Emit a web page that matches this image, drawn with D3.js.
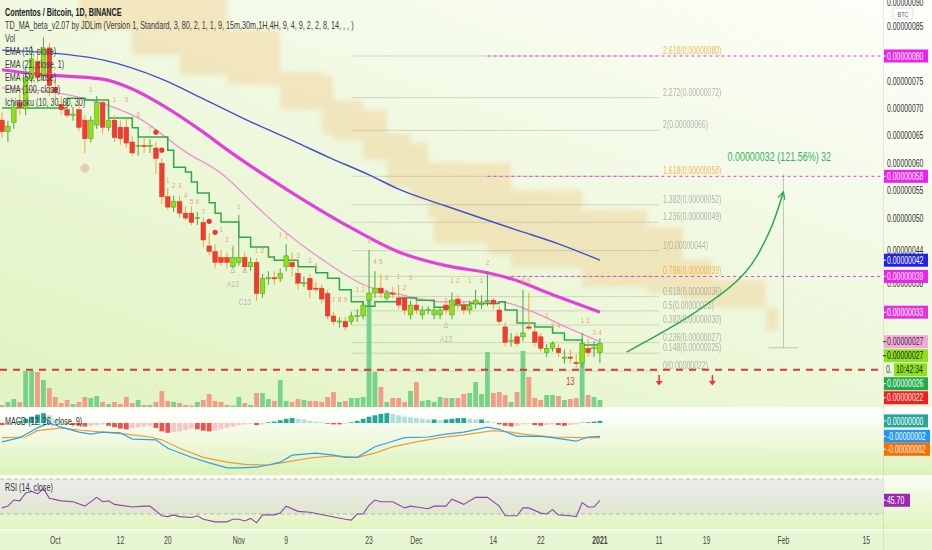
<!DOCTYPE html>
<html><head><meta charset="utf-8">
<script src="https://cdn.jsdelivr.net/npm/d3@7"></script>
<style>html,body{margin:0;padding:0;overflow:hidden;background:#eef8dd}svg{display:block}</style>
</head><body>
<svg id="chart" width="932" height="550" font-family="'Liberation Sans', Arial, sans-serif"></svg>
<script>
// ---------------- DATA (prices in units of 1e-8 BTC, day index from 2020-09-22) ----------------
const startDate = "2020-09-22";
const opens = [67.9,65.8,67.5,71.1,70.0,75.5,78.6,76.2,81.1,73.9, 70.8,69.8,68.8,69.8,67.9,64.5,67.0,71.1,66.6,67.9, 66.6,66.6,63.9,63.1,63.3,63.1,62.8,60.0,53.9,52.0, 53.0,50.9,50.9,50.0,49.2,44.9,43.9,42.8,42.8,41.1, 41.9,42.8,41.1,41.9,36.2,39.0,39.1,39.0,41.1,41.9, 39.9,38.1,39.0,37.2,37.2,36.2,32.1,31.1,31.1,31.1, 32.1,32.1,35.0,36.3,37.2,35.4,36.3,35.4,35.4,32.3, 34.1,32.3,33.2,32.3,32.3,34.1,32.3,35.2,34.1,33.2, 34.3,34.3,34.9,35.0,33.2,30.1,27.5,28.3,28.3,30.1, 29.2,28.3,25.4,26.2,26.2,24.5,24.6,23.6,23.5,26.2, 26.2,25.4];
const highs = [69.3,67.8,71.3,72.8,77.7,81.5,81.0,83.0,82.0,75.2, 72.3,70.8,70.3,70.8,68.8,68.6,72.3,71.8,69.3,68.8, 67.8,68.3,64.9,64.9,64.9,64.4,63.9,60.9,55.5,54.1, 54.1,52.1,52.1,51.1,50.1,47.2,45.2,44.2,43.7,44.7, 50.6,43.7,42.8,42.7,39.8,40.3,40.3,40.8,45.2,43.7, 40.8,39.3,39.8,38.3,37.8,36.9,32.9,31.9,31.9,32.9, 33.4,34.9,44.2,40.3,39.8,36.9,37.4,37.8,35.9,34.9, 34.9,33.9,33.9,33.9,33.9,35.4,36.4,35.9,34.9,34.9, 36.9,35.9,40.3,35.4,33.9,31.0,29.0,29.0,36.9,36.4, 30.0,29.0,27.0,27.5,27.0,26.0,26.0,25.1,29.0,28.0, 27.5,28.0];
const lows = [64.6,63.9,66.3,68.8,68.8,74.7,74.7,75.2,72.3,71.8, 68.8,68.3,67.8,65.9,61.9,63.8,66.3,65.4,65.9,63.9, 63.4,62.9,61.4,61.4,61.9,61.9,58.0,52.6,51.6,51.1, 50.1,49.6,48.7,48.7,44.7,43.2,40.8,41.3,40.8,40.8, 41.3,40.3,40.3,34.9,35.4,37.8,37.8,38.3,40.3,39.3, 36.9,37.4,35.4,36.4,34.4,31.5,30.5,30.0,29.5,30.5, 31.0,31.5,33.9,35.4,35.4,34.9,35.4,33.4,32.4,31.5, 32.4,31.5,32.4,31.5,31.5,32.4,31.5,33.4,32.4,32.4, 33.4,33.4,33.9,33.4,30.5,26.5,26.5,26.5,27.5,29.5, 26.5,25.6,24.6,25.6,24.6,23.4,23.4,22.6,22.6,24.6, 24.6,23.5];
const closes = [65.8,66.8,70.3,70.2,75.7,79.1,75.7,81.1,74.2,73.0, 69.8,68.8,69.0,66.6,64.5,67.9,71.1,66.6,67.9,64.7, 64.5,63.7,61.9,63.3,63.1,63.3,60.9,53.9,52.0,53.0, 50.9,50.0,49.2,50.1,46.0,43.9,41.9,41.9,41.9,42.8, 42.8,41.1,41.9,36.2,39.0,39.1,39.0,39.9,43.1,41.1, 38.1,38.2,36.9,37.1,35.2,32.1,31.1,31.2,30.1,32.1, 32.2,34.1,36.3,37.2,36.3,36.3,36.2,34.1,33.2,34.1, 33.2,33.2,33.3,33.2,33.2,33.2,35.0,34.3,33.2,34.1, 35.0,34.4,35.0,34.3,31.1,27.3,27.7,27.1,29.0,29.9, 27.3,26.2,26.2,27.1,25.4,24.6,24.5,23.5,27.1,25.4, 26.3,27.1];
const volumes = [2,5,8,5,36,36,35,27,19,10, 4,7,3,5,10,9,11,5,3,5, 3,10,4,7,2,2,5,16,6,5, 4,2,1.5,5,7,13,6,5,2,1.5, 10,4,2,14,14,8,6,27,6,5, 8,7,6,6,5,10,15,5,6,9, 9,10,107,35,20,5,9,9,5,16, 25,6,7,5,10,9,9,9,13,14, 25,13,55,14,15,12,5,15,56,30, 9,7,12,12,11,7,8,9,64,12, 10,7];

// moving averages [dayIndex, value]
const ema100 = [[0,80.7],[8,80.2],[17,78.9],[27,75.4],[34,71.8],[42,67.6],[50,63.7],[55,61.2],[62,57.9],[67,55.3],[75,52.2],[87,47.8],[94,45.3],[101,42.3]];
const ema50 = [[0,77.1],[6,76.3],[17,75.4],[22,73.6],[27,70.7],[34,65.7],[38,62.5],[48,55.3],[59,48.2],[67,43.8],[75,41.3],[82,40.0],[86,38.9],[93,36.0],[101,32.8]];
const ema21 = [[0,73.8],[8,73.1],[17,70.9],[23,68.3],[31,62.1],[37,58.2],[44,51.1],[48,47.3],[54,42.5],[62,37.4],[67,36.1],[74,34.7],[84,34.7],[90,32.7],[95,30.2],[101,27.4]];
const tdLine = [[0,70.1],[3,70.1],[7,70.1],[11,71.9],[14,71.6],[18,68.3],[22,66.5],[23,64.8],[27,64.8],[28,62.4],[29,59.3],[31,58.4],[32,56.6],[33,54.6],[35,52.8],[36,50.9],[37,49.3],[40,46.5],[42,44.7],[45,42.9],[46,42.3],[50,41.1],[53,40.0],[55,39.0],[57,36.9],[59,34.7],[61,33.9],[63,34.7],[67,35.4],[70,35.0],[73,33.7],[76,34.1],[79,34.4],[82,34.4],[84,34.7],[85,33.2],[87,30.8],[90,30.1],[93,29.0],[95,27.7],[98,26.8],[101,26.3]];
// ichimoku cloud (displaced) [dayIndex, upper, lower]
const cloud = [[13,92,84.4],[22,92,79.8],[30,92,76.1],[38,84.4,74.3],[47,76.7,69.8],[54,76.1,65.2],[56,71.6,64.3],[61,69.8,60.6],[65,65.5,55.6],[69,63.7,53.3],[72,60.1,50.2],[73,60.1,45.5],[82,60.1,43.3],[86,55.1,41.1],[98,51.5,37.4],[109,48.4,36.3],[115,42.4,35.0],[120,38.7,33.7],[129,33.7,29.6],[131,31.7,28.6]];

// fibonacci
const fibRatios = [0,0.148,0.236,0.382,0.5,0.618,0.786,1,1.236,1.382,1.618,2,2.272,2.618];
const fibLow = 22.05, fibHigh = 44.04;
const fibOrange = [0.786,1.618,2.618];
const fibSpan = [59,111];
const pinkLevels = [[2.618,82],[1.618,82],[0.786,86]];
const supportLine = 22.3;

// MACD (units 1e-9)
const macdLine = [[0,-27],[3,-21],[6,-7],[8,0],[10,-6],[13,-13],[15,-16],[17,-13],[20,-14],[22,-23],[26,-24],[28,-36],[32,-49],[35,-57],[38,-64],[40,-64],[43,-63],[45,-60],[47,-56],[49,-46],[53,-43],[56,-46],[58,-49],[60,-49],[63,-34],[66,-26],[68,-21],[72,-20],[75,-16],[78,-13],[82,-6],[84,-9],[87,-19],[91,-19],[93,-21],[97,-26],[99,-20],[101,-19]];
const signalLine = [[0,-21],[4,-20],[6,-11],[10,-7],[13,-10],[17,-13],[21,-16],[25,-20],[27,-24],[30,-36],[34,-49],[38,-56],[41,-59],[45,-60],[48,-56],[52,-50],[56,-47],[60,-49],[63,-43],[66,-34],[70,-27],[74,-21],[78,-17],[83,-11],[86,-13],[88,-16],[93,-20],[98,-21],[101,-21]];
const macdHist = [-3,-2,1,3,6,9,12,14,11,6, 2,-1,-3,-4,-5,-4,-3,-2,-4,-6, -8,-9,-7,-6,-5,-4,-7,-12,-14,-13, -12,-10,-8,-9,-11,-12,-11,-9,-7,-5, -3,-2,-1,-3,-2,1,2,4,6,7, 6,5,3,2,1,-1,-2,-2,-1,1, 3,6,9,11,13,14,13,11,9,8, 7,6,5,5,4,5,6,7,7,6, 5,5,3,1,-2,-4,-5,-4,-2,-1, -3,-4,-3,-2,-3,-4,-3,-2,0.5,1, 2,3];

// RSI [dayIndex, value]
const rsi = [[0,37],[1,39],[2,46],[3,45],[4,54],[5,56],[6,53],[7,59],[8,48],[10,45],[12,44],[14,39],[16,49],[17,44],[18,45],[19,41],[22,38],[24,39],[25,39],[27,28],[28,27],[29,29],[30,27],[32,26],[33,28],[34,24],[36,21],[38,21],[39,24],[40,24],[41,22],[42,25],[43,20],[44,29],[46,29],[47,31],[48,39],[50,33],[52,32],[55,28],[58,24],[59,23],[60,30],[61,30],[62,40],[63,46],[64,44],[66,44],[68,37],[69,39],[70,38],[72,36],[73,39],[75,39],[76,47],[78,41],[80,49],[82,49],[84,39],[85,28],[87,28],[88,37],[89,37],[91,31],[92,30],[93,35],[94,29],[96,28],[97,27],[98,43],[99,38],[100,38],[101,45.7]];

// annotations
const tdLabels = [[15,"1",73.0],[19,"1",71.2],[21,"3",71.2],[23,"6",68.5],[25,"7",65.7],[28,"1",56.4],[29,"2",55.5],[30,"3",55.5],[31,"4",53.6],[32,"5",52.5],[33,"6",52.5],[34,"7",50.7],[37,"1",47.5],[38,"2",45.6],[39,"3",44.2],[40,"1",51.6],[43,"1",43.6],[44,"2",43.6],[45,"3",43.6],[47,"1",46.5],[48,"2",46.2],[50,"3",42.7],[52,"3",41.8],[53,"4",40.9],[56,"7",34.7],[57,"8",34.7],[58,"9",34.7],[60,"1",36.5],[61,"2",36.5],[62,"3",45.4],[63,"4",41.6],[64,"5",41.6],[65,"6",38.7],[67,"1",38.9],[68,"2",36.9],[69,"3",38.7],[76,"1",38.1],[77,"2",38.1],[79,"1",38.1],[81,"1",38.1],[82,"2",41.4],[87,"5",31.0],[88,"8",38.1],[89,"9",38.1],[92,"2",31.7],[93,"3",29.9],[94,"4",29.9],[98,"1",30.8],[99,"2",30.8],[100,"3",28.6],[101,"4",28.6]];
const greyLabels = [[39,"A13",37.4],[41,"C13",34.1],[75,"A13",27.4],[39,"\u0394",39.9],[41,"\u0394",39.9],[75,"\u0394",29.9]];
const redDots = [[26,65.7],[27,62.4],[35,49.4],[36,47.4]];
const greyDots = [[14,59.1]];
const count13 = [96,20.2];
const downArrows = [[111,20.2],[120,20.2]];
const projection = [[105.5,25.5],[117,32.7],[125.5,40.0],[129.5,47.2],[132,54.8]];
const measure = {day:132, from:26.3, to:58.0, text:"0.00000032 (121.56%) 32"};

const priceTicks = [90,85,75,70,65,60,55,50,44,38];
const timeTicks = [["2020-10-01","Oct"],["2020-10-12","12"],["2020-10-20","20"],["2020-11-01","Nov"],["2020-11-09","9"],["2020-11-23","23"],["2020-12-01","Dec"],["2020-12-14","14"],["2020-12-22","22"],["2021-01-01","2021"],["2021-01-11","11"],["2021-01-19","19"],["2021-02-01","Feb"],["2021-02-15","15"]];
const legendLines = ["Contentos / Bitcoin, 1D, BINANCE","TD_MA_beta_v2.07 by JDLim (Version 1, Standard, 3, 80, 2, 1, 1, 9, 15m,30m,1H,4H, 9, 4, 9, 2, 2, 8, 14, , , )","Vol","EMA (10, close)","EMA (21, close, 1)","EMA (50, close)","EMA (100, close)","Ichimoku (10, 30, 60, 30)"];

// ---------------- RENDER ----------------
const svg = d3.select("#chart");
const defs = svg.append("defs");
const parse = d3.utcParse("%Y-%m-%d");
const t0 = parse(startDate);
const day = i => new Date(t0.getTime() + i*86400000);
const xs = d3.scaleUtc().domain([day(0), day(146)]).range([2, 2 + 146*5.92]);
const X = i => xs(day(i));
const y = d3.scaleLinear().domain([fibLow, 79.62]).range([371, 56]);
const yV = d3.scaleLinear().domain([0, 100]).range([407, 307]);
const yM = d3.scaleLinear().domain([0, -20]).range([423, 437]);
const yR = d3.scaleLinear().domain([30, 70]).range([514, 479]);
const PR = 883;

function grad(id, x1, y1, x2, y2, stops) {
  const g = defs.append("linearGradient").attr("id", id).attr("x1", x1).attr("y1", y1).attr("x2", x2).attr("y2", y2);
  stops.forEach(([o, c]) => g.append("stop").attr("offset", o).attr("stop-color", c));
}
grad("gMain", 1, 0, 0.2, 1, [[0, "#fdfef9"], [0.45, "#f1f9e3"], [1, "#e3f4c4"]]);
grad("gMacd", 0, 0, 0, 1, [[0, "#ffffff"], [1, "#dcf2b8"]]);
grad("gRsi", 0, 0, 0, 1, [[0, "#fafdf4"], [1, "#e0f3be"]]);
function clip(id, yy, h) { defs.append("clipPath").attr("id", id).append("rect").attr("x", 0).attr("y", yy).attr("width", PR).attr("height", h); }
clip("cMain", 0, 407); clip("cMacd", 408, 68); clip("cRsi", 476, 54);
defs.append("filter").attr("id", "soft").attr("x", "-5%").attr("y", "-5%").attr("width", "110%").attr("height", "110%")
  .append("feGaussianBlur").attr("stdDeviation", 2.5);

// arrow marker
defs.append("marker").attr("id", "arr").attr("viewBox", "0 0 10 10").attr("refX", 9).attr("refY", 5)
  .attr("markerWidth", 9).attr("markerHeight", 9).attr("orient", "auto").attr("markerUnits", "userSpaceOnUse")
  .append("path").attr("d", "M1,1 L9,5 L1,9").attr("fill", "none").attr("stroke", "#2eaa4a").attr("stroke-width", 1.4);

svg.append("rect").attr("x", 0).attr("y", 0).attr("width", 932).attr("height", 408).attr("fill", "url(#gMain)");
svg.append("rect").attr("x", 0).attr("y", 408).attr("width", 932).attr("height", 68).attr("fill", "url(#gMacd)");
svg.append("rect").attr("x", 0).attr("y", 476).attr("width", 932).attr("height", 54).attr("fill", "url(#gRsi)");
svg.append("rect").attr("x", 0).attr("y", 530).attr("width", 932).attr("height", 20).attr("fill", "#e8f7d3");

function txt(g, x, yy, s, o = {}) {
  const t = g.append("text").attr("transform", `translate(${x},${yy}) scale(${o.sx ?? 0.69},1)`)
    .attr("font-size", o.fs ?? 10).attr("fill", o.fill ?? "#333").text(s);
  if (o.anchor) t.attr("text-anchor", o.anchor);
  if (o.fw) t.attr("font-weight", o.fw);
  if (o.op != null) t.attr("opacity", o.op);
  return t;
}

// ---------- main pane ----------
const main = svg.append("g").attr("clip-path", "url(#cMain)");

// cloud
main.append("path").datum(cloud)
  .attr("d", d3.area().x(d => X(d[0])).y0(d => y(d[2])).y1(d => y(d[1])).curve(d3.curveStepAfter))
  .attr("fill", "rgba(240,180,95,0.28)").attr("filter", "url(#soft)");

// fib lines
const fibVal = r => fibLow + r*(fibHigh - fibLow);
main.selectAll(".fib").data(fibRatios).join("line")
  .attr("x1", X(fibSpan[0])).attr("x2", X(fibSpan[1]))
  .attr("y1", r => y(fibVal(r))).attr("y2", r => y(fibVal(r)))
  .attr("stroke", "rgba(130,130,130,0.28)").attr("stroke-width", 1);
const fg = main.append("g");
fibRatios.forEach(r => {
  const orange = fibOrange.includes(r);
  txt(fg, X(fibSpan[1]) + 4, y(fibVal(r)) - 2, `${r}(${(fibVal(r)*1e-8).toFixed(8)})`,
    {fs: 10, fill: orange ? "#f3a52d" : "#8f8f8f", op: orange ? 0.75 : 0.65});
});
// pink dashed levels
main.selectAll(".pink").data(pinkLevels).join("line")
  .attr("x1", d => X(d[1])).attr("x2", PR)
  .attr("y1", d => y(fibVal(d[0]))).attr("y2", d => y(fibVal(d[0])))
  .attr("stroke", "#e43ee6").attr("stroke-width", 1).attr("stroke-dasharray", "3,3");

// data
const data = d3.range(closes.length).map(i => ({i, o: opens[i], h: highs[i], l: lows[i], c: closes[i], v: volumes[i], up: closes[i] >= opens[i]}));

// volume
main.selectAll(".vol").data(data).join("rect")
  .attr("x", d => X(d.i) - 2.4).attr("width", 4.8)
  .attr("y", d => yV(d.v)).attr("height", d => yV(0) - yV(d.v))
  .attr("fill", d => d.up ? "#78d38a" : "#f29d86");

// support line
main.append("line").attr("x1", 0).attr("x2", PR).attr("y1", y(supportLine)).attr("y2", y(supportLine))
  .attr("stroke", "#d83a32").attr("stroke-width", 2).attr("stroke-dasharray", "7,6");

// lines
const ln = d3.line().x(d => X(d[0])).y(d => y(d[1])).curve(d3.curveMonotoneX);
main.append("path").datum(ema100).attr("d", ln).attr("fill", "none").attr("stroke", "#3f4fd6").attr("stroke-width", 1.4);
main.append("path").datum(ema50).attr("d", ln).attr("fill", "none").attr("stroke", "#e33fdc").attr("stroke-width", 3.2);
main.append("path").datum(ema21).attr("d", ln).attr("fill", "none").attr("stroke", "#ec8fd6").attr("stroke-width", 1.3);
main.append("path").datum(tdLine).attr("d", d3.line().x(d => X(d[0])).y(d => y(d[1])).curve(d3.curveStepAfter))
  .attr("fill", "none").attr("stroke", "#2fa84a").attr("stroke-width", 1.5);

// candles
main.selectAll(".wick").data(data).join("line")
  .attr("x1", d => X(d.i)).attr("x2", d => X(d.i)).attr("y1", d => y(d.h)).attr("y2", d => y(d.l))
  .attr("stroke", d => d.up ? "#47a84a" : "#f2a43a").attr("stroke-width", 1);
main.selectAll(".body").data(data).join("rect")
  .attr("x", d => X(d.i) - 2.3).attr("width", 4.6)
  .attr("y", d => y(Math.max(d.o, d.c)))
  .attr("height", d => Math.max(1.2, y(Math.min(d.o, d.c)) - y(Math.max(d.o, d.c))))
  .attr("fill", d => d.up ? "#8ede18" : "#f23c2d")
  .attr("stroke", d => d.up ? "#4f9d22" : "#d9332a").attr("stroke-width", 0.5);

// TD labels
const tg = main.append("g");
tdLabels.forEach(([i, s, p]) => txt(tg, X(i), y(p), s, {fs: 8, fill: "#ee9a68", anchor: "middle", sx: 0.8, op: 0.9}));
greyLabels.forEach(([i, s, p]) => txt(tg, X(i), y(p), s, {fs: 8.5, fill: "#b9b9b9", anchor: "middle", sx: 0.8}));
main.selectAll(".rdot").data(redDots).join("circle").attr("cx", d => X(d[0])).attr("cy", d => y(d[1])).attr("r", 2.6).attr("fill", "#e8392f");
main.selectAll(".gdot").data(greyDots).join("circle").attr("cx", d => X(d[0])).attr("cy", d => y(d[1])).attr("r", 4.5).attr("fill", "rgba(215,150,150,0.45)");
txt(tg, X(count13[0]), y(count13[1]) + 4, "13", {fs: 10, fill: "#e53a30", anchor: "middle", sx: 0.8});

// down arrows
downArrows.forEach(([i, p]) => {
  const cx = X(i), cy = y(p);
  main.append("path").attr("d", `M${cx},${cy - 6} L${cx},${cy + 2}`).attr("stroke", "#e53935").attr("stroke-width", 1.6);
  main.append("path").attr("d", `M${cx - 3.5},${cy} L${cx + 3.5},${cy} L${cx},${cy + 4.5} Z`).attr("fill", "#e53935");
});

// measure
const mx = X(measure.day);
main.append("line").attr("x1", mx).attr("x2", mx).attr("y1", y(measure.to)).attr("y2", y(measure.from)).attr("stroke", "rgba(120,140,130,0.45)").attr("stroke-width", 1);
main.append("line").attr("x1", X(measure.day - 2.5)).attr("x2", X(measure.day + 2.5)).attr("y1", y(measure.from)).attr("y2", y(measure.from)).attr("stroke", "rgba(120,140,130,0.45)").attr("stroke-width", 1);
txt(main, mx - 56, y(measure.to) - 13, measure.text, {fs: 13, fill: "#35b35f"});

// projection arrow
main.append("path").datum(projection).attr("d", d3.line().x(d => X(d[0])).y(d => y(d[1])).curve(d3.curveCatmullRom))
  .attr("fill", "none").attr("stroke", "#2eaa4a").attr("stroke-width", 1.5).attr("marker-end", "url(#arr)");

// ---------- MACD pane ----------
const mg = svg.append("g").attr("clip-path", "url(#cMacd)");
const hd = macdHist.map((v, i) => ({i, v, prev: i ? macdHist[i - 1] : v}));
mg.selectAll(".h").data(hd).join("rect")
  .attr("x", d => X(d.i) - 2.4).attr("width", 4.8)
  .attr("y", d => Math.min(yM(d.v), yM(0))).attr("height", d => Math.abs(yM(d.v) - yM(0)))
  .attr("fill", d => d.v >= 0 ? (d.v >= d.prev ? "#26a69a" : "#b2dfdb") : (d.v <= d.prev ? "#ef5350" : "#f9c4c4"));
const lm = d3.line().x(d => X(d[0])).y(d => yM(d[1]));
mg.append("path").datum(signalLine).attr("d", lm).attr("fill", "none").attr("stroke", "#f39a2e").attr("stroke-width", 1.2);
mg.append("path").datum(macdLine).attr("d", lm).attr("fill", "none").attr("stroke", "#2e9ff0").attr("stroke-width", 1.2);
txt(svg, 5, 425, "MACD (12, 26, close, 9)", {fs: 10.5, fill: "#333"});

// ---------- RSI pane ----------
const rg = svg.append("g").attr("clip-path", "url(#cRsi)");
rg.append("rect").attr("x", 0).attr("width", PR).attr("y", yR(70)).attr("height", yR(30) - yR(70)).attr("fill", "rgba(150,110,200,0.11)");
[70, 30].forEach(v => rg.append("line").attr("x1", 0).attr("x2", PR).attr("y1", yR(v)).attr("y2", yR(v))
  .attr("stroke", "#b9b9b9").attr("stroke-dasharray", "4,3"));
rg.append("path").datum(rsi).attr("d", d3.line().x(d => X(d[0])).y(d => yR(d[1])))
  .attr("fill", "none").attr("stroke", "#8e44ad").attr("stroke-width", 1.1);
txt(svg, 5, 491, "RSI (14, close)", {fs: 10.5, fill: "#333"});

// pane separators
[408, 476, 530].forEach(v => svg.append("line").attr("x1", 0).attr("x2", 932).attr("y1", v).attr("y2", v).attr("stroke", "rgba(255,255,255,0.9)").attr("stroke-width", 1.5));
svg.append("line").attr("x1", PR + 0.5).attr("x2", PR + 0.5).attr("y1", 0).attr("y2", 550).attr("stroke", "rgba(0,0,0,0.08)");

// ---------- time axis ----------
const ax = svg.append("g");
timeTicks.forEach(([d, s]) => txt(ax, xs(parse(d)), 544, s, {fs: 10, fill: "#444", anchor: "middle", fw: s === "2021" ? "bold" : null}));

// ---------- price axis ----------
const pa = svg.append("g");
priceTicks.forEach(v => txt(pa, 887, Math.max(y(v) + 3.5, 6), (v*1e-8).toFixed(8), {fs: 10, fill: "#333"}));
pa.append("rect").attr("x", 893).attr("y", 8).attr("width", 20).attr("height", 11).attr("fill", "#fff").attr("stroke", "#ccc").attr("stroke-width", 0.6).attr("rx", 1.5);
txt(pa, 903, 16.5, "BTC", {fs: 8, fill: "#555", anchor: "middle"});

function boxes(list, minGap) {
  let prev = -1e9;
  list.sort((a, b) => a.y - b.y).forEach(b => {
    let yy = Math.max(b.y, prev + minGap); prev = yy;
    pa.append("rect").attr("x", PR + 1).attr("y", yy - 6.5).attr("width", b.w ?? 44).attr("height", 13).attr("fill", b.bg);
    pa.append("line").attr("x1", PR).attr("x2", PR + 3).attr("y1", yy).attr("y2", yy).attr("stroke", b.fg);
    txt(pa, PR + 4, yy + 3.6, b.label, {fs: 10, fill: b.fg});
    if (b.countdown) {
      txt(pa, PR + 3, yy + 14 + 3.6, "0.", {fs: 10, fill: "#333"});
      pa.append("rect").attr("x", PR + 11).attr("y", yy + 14 - 6.5).attr("width", 33).attr("height", 13).attr("fill", b.bg);
      txt(pa, PR + 13, yy + 14 + 3.6, b.countdown, {fs: 10, fill: "#222"});
      prev += 14;
    }
  });
}
const fmt = v => (v*1e-8).toFixed(8);
const last = a => a[a.length - 1][1];
boxes([
  {y: y(fibVal(2.618)), label: fmt(fibVal(2.618)), bg: "#ee1ff0", fg: "#fff"},
  {y: y(fibVal(1.618)), label: fmt(fibVal(1.618)), bg: "#ee1ff0", fg: "#fff"},
  {y: y(last(ema100)), label: fmt(last(ema100)), bg: "#2222e6", fg: "#fff"},
  {y: y(fibVal(0.786)), label: fmt(fibVal(0.786)), bg: "#ee1ff0", fg: "#fff"},
  {y: y(last(ema50)), label: fmt(last(ema50)), bg: "#e530df", fg: "#fff"},
  {y: y(last(ema21)), label: fmt(last(ema21)), bg: "#f5a9d9", fg: "#333"},
  {y: y(closes[closes.length - 1]), label: fmt(closes[closes.length - 1]), bg: "#8ee21c", fg: "#222", countdown: "10:42:34"},
  {y: y(last(tdLine)), label: fmt(last(tdLine)), bg: "#21ad4b", fg: "#fff"},
  {y: y(supportLine), label: fmt(supportLine), bg: "#ff1a1a", fg: "#fff"}
], 14);
const mfmt = v => (v*1e-9).toFixed(8);
boxes([
  {y: yM(macdHist[macdHist.length - 1]), label: mfmt(macdHist[macdHist.length - 1]), bg: "#26a69a", fg: "#fff"},
  {y: yM(last(macdLine)), label: mfmt(last(macdLine)), bg: "#2196f3", fg: "#fff", w: 46},
  {y: yM(last(signalLine)), label: mfmt(last(signalLine)), bg: "#ff6d00", fg: "#fff", w: 46}
], 13);
boxes([{y: yR(last(rsi)), label: last(rsi).toFixed(2), bg: "#9c27b0", fg: "#fff", w: 26}], 13);

// ---------- legend ----------
const lg = svg.append("g");
legendLines.forEach((s, k) => txt(lg, 5, 16 + k*12.9, s, {fs: 10.5, fill: k === 0 ? "#222" : "#3a3a3a", fw: k === 0 ? "bold" : null}));
</script>
</body></html>
